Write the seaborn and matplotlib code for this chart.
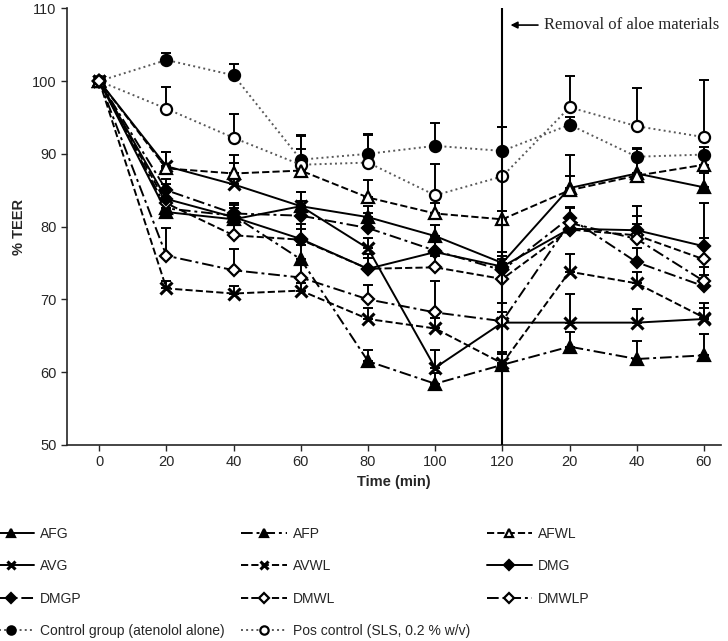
import numpy as np
import pandas as pd
import matplotlib
matplotlib.use("Agg")
import matplotlib.pyplot as plt
import seaborn as sns

sns.set_style("ticks")
plt.rcParams["font.family"] = ["Liberation Sans", "DejaVu Sans"]

# time points (second 20/40/60 are after removal of aloe)
time_labels = ["0", "20", "40", "60", "80", "100", "120", "20", "40", "60"]

afg = [100, 82.0, 81.0, 82.8, 81.3, 78.7, 75.0, 85.3, 87.3, 85.4]
afp = [100, 82.5, 81.5, 75.5, 61.5, 58.4, 61.0, 63.5, 61.8, 62.3]
afwl = [100, 88.0, 87.3, 87.7, 84.0, 81.8, 81.0, 85.0, 87.0, 88.5]
avg = [100, 88.3, 85.8, 82.8, 77.0, 60.6, 66.8, 66.8, 66.8, 67.3]
avwl = [100, 71.5, 70.8, 71.2, 67.3, 66.0, 61.2, 73.8, 72.2, 67.5]
dmg = [100, 83.8, 81.3, 78.3, 74.2, 76.5, 74.5, 79.7, 79.5, 77.3]
dmgp = [100, 85.0, 81.8, 81.5, 79.8, 76.7, 74.0, 81.2, 75.1, 71.8]
dmwl = [100, 83.2, 78.8, 78.2, 74.2, 74.4, 72.8, 79.6, 78.8, 75.5]
dmwlp = [100, 76.0, 74.0, 73.0, 70.0, 68.2, 67.0, 80.5, 78.3, 72.5]
control = [100, 102.9, 100.8, 89.2, 90.0, 91.1, 90.4, 94.0, 89.6, 89.9]
pos_control = [100, 96.2, 92.2, 88.5, 88.8, 84.3, 86.9, 96.4, 93.8, 92.3]

# upper error bars (SD)
afg_err = [0, 1.5, 1.5, 2.0, 1.5, 1.5, 1.5, 4.5, 3.5, 2.0]
afp_err = [0, 1.5, 1.5, 2.0, 1.5, 1.5, 1.5, 2.0, 2.5, 3.0]
afwl_err = [0, 2.2, 2.6, 3.0, 2.4, 1.5, 1.2, 2.0, 3.0, 1.5]
avg_err = [0, 2.0, 3.0, 2.0, 1.5, 2.5, 1.5, 3.9, 1.9, 1.5]
avwl_err = [0, 1.0, 1.0, 1.0, 1.5, 1.5, 1.5, 2.5, 1.5, 2.0]
dmg_err = [0, 2.0, 2.0, 2.0, 2.0, 1.5, 1.5, 1.5, 2.0, 6.0]
dmgp_err = [0, 1.5, 1.5, 2.0, 2.0, 1.5, 1.5, 1.5, 2.0, 1.5]
dmwl_err = [0, 1.5, 2.0, 1.5, 1.5, 1.5, 1.5, 1.5, 4.0, 3.0]
dmwlp_err = [0, 3.8, 2.9, 2.0, 2.0, 4.3, 2.5, 2.0, 2.0, 2.0]
control_err = [0, 1.0, 1.5, 3.4, 2.7, 3.1, 3.3, 1.0, 1.0, 1.0]
pos_err = [0, 3.0, 3.3, 4.0, 3.8, 4.3, 6.8, 4.3, 5.3, 7.9]

x = np.arange(len(time_labels))

dashdot = (0, (6, 2, 1.5, 2))
# order chosen so the 3-column legend reads row by row like the original
series = [
    ("AFG", afg, afg_err, "^", "k", "-"),
    ("AVG", avg, avg_err, "x", "k", "-"),
    ("DMGP", dmgp, dmgp_err, "D", "k", dashdot),
    ("Control group (atenolol alone)", control, control_err, "o", "k", ":"),
    ("AFP", afp, afp_err, "^", "k", dashdot),
    ("AVWL", avwl, avwl_err, "x", "k", "--"),
    ("DMWL", dmwl, dmwl_err, "D", "w", "--"),
    ("Pos control (SLS, 0.2 % w/v)", pos_control, pos_err, "o", "w", ":"),
    ("AFWL", afwl, afwl_err, "^", "w", "--"),
    ("DMG", dmg, dmg_err, "D", "k", "-"),
    ("DMWLP", dmwlp, dmwlp_err, "D", "w", dashdot),
]

fig = plt.figure(figsize=(7.28, 6.41), dpi=100)
ax = fig.add_axes([0.092, 0.306, 0.898, 0.681])

for name, vals, err, mk, fc, ls in series:
    ax.errorbar(x, vals, yerr=[np.zeros(len(err)), err], fmt="none",
                ecolor="k", elinewidth=1.4, capsize=3.5, capthick=1.4, zorder=2)
    ms = 8 if mk != "D" else 6.5
    lc = "0.35" if ls == ":" else "k"
    sns.lineplot(x=x, y=vals, ax=ax, color=lc, linestyle=ls, linewidth=1.4,
                 marker=mk, markersize=ms, markerfacecolor=fc,
                 markeredgecolor="k", markeredgewidth=1.6 if mk != "x" else 2.2,
                 label=name, zorder=3)

ax.axvline(6, color="k", linewidth=1.5, zorder=4)
ax.annotate("Removal of aloe materials", xy=(6.08, 107.7), xytext=(6.62, 107.7),
            va="center", ha="left", fontsize=12,
            family=["Liberation Serif", "DejaVu Serif"],
            arrowprops=dict(arrowstyle="-|>", color="k", lw=1.2, mutation_scale=10))

ax.set_xlim(-0.48, 9.25)
ax.set_ylim(50, 110)
ax.set_yticks(range(50, 111, 10))
ax.set_xticks(x)
ax.set_xticklabels(time_labels)
ax.tick_params(labelsize=10.5, direction="out", length=4, width=1)
ax.set_xlabel("Time (min)", fontweight="bold", fontsize=10.5)
ax.set_ylabel("% TEER", fontweight="bold", fontsize=10.5)
sns.despine(ax=ax)
for s in ["left", "bottom"]:
    ax.spines[s].set_linewidth(1.2)

handles, labels = ax.get_legend_handles_labels()
ax.get_legend().remove()
fig.legend(handles, labels, ncol=3, loc="upper left", bbox_to_anchor=(-0.034, 0.198),
           frameon=False, handlelength=3.3, handletextpad=0.43, columnspacing=1.2,
           labelspacing=1.33, markerscale=0.75,
           prop={"family": ["Liberation Sans", "DejaVu Sans"], "size": 10})

fig.savefig("out.png", dpi=100)
